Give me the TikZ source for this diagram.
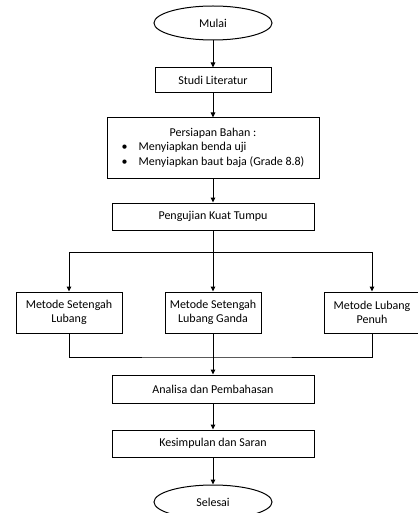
\documentclass[tikz,border=0pt]{standalone}
\usepackage{fontspec}
\setmainfont{Carlito}
\usetikzlibrary{shapes.geometric,arrows.meta}
\begin{document}
\begin{tikzpicture}[x=1pt, y=-1pt,
  every node/.style={font=\fontsize{12}{14.5}\selectfont},
  proses/.style={draw, line width=1pt, rectangle, minimum height=27pt, inner sep=2pt},
  terminal/.style={draw, line width=1pt, ellipse, minimum width=118pt, minimum height=34pt},
  garis/.style={line width=1pt},
  panah/.style={line width=1pt, -{Triangle[length=5pt,width=4.5pt]}}]
\useasboundingbox (0,0) rectangle (417,513);
% alur utama
\node[terminal] (mulai) at (213,23){Mulai};
\node[proses, minimum width=116pt, minimum height=25pt] (studi) at (213,80.5){Studi Literatur};
\node[proses, minimum width=212pt, minimum height=60pt] (bahan) at (213,148){%
  \begin{tabular}{@{}c@{\hspace{11pt}}l@{}}
  \multicolumn{2}{c}{Persiapan Bahan :}\\
  \textbullet & Menyiapkan benda uji\\
  \textbullet & Menyiapkan baut baja (Grade 8.8)
  \end{tabular}};
\node[proses, minimum width=202pt] (uji) at (213,216.5){Pengujian Kuat Tumpu};
% tiga metode
\node[proses, minimum width=106pt, minimum height=41pt, align=center] (msl) at (69,312.5){Metode Setengah\\Lubang};
\node[proses, minimum width=96pt, minimum height=41pt, align=center] (mslg) at (213,312.5){Metode Setengah\\Lubang Ganda};
\node[proses, minimum width=96pt, minimum height=41pt, align=center] (mlp) at (372,312.5){Metode Lubang\\Penuh};
\node[proses, minimum width=202pt, minimum height=28pt] (analisa) at (213,389){Analisa dan Pembahasan};
\node[proses, minimum width=202pt, minimum height=27pt] (simpul) at (213,443.5){Kesimpulan dan Saran};
\node[terminal] (selesai) at (213,502){Selesai};
\coordinate (cabang) at (213,252);
\coordinate (gabung) at (213,357);
% panah
\draw[panah] (mulai) -- (studi);
\draw[panah] (studi) -- (bahan);
\draw[panah] (bahan) -- (uji);
\draw[panah] (uji) -- (mslg);
\draw[panah] (cabang) -| (msl);
\draw[panah] (cabang) -| (mlp);
\draw[garis] (msl) |- (gabung) -| (mlp);
\draw[panah] (mslg) -- (analisa);
\draw[panah] (analisa) -- (simpul);
\draw[panah] (simpul) -- (selesai);
\end{tikzpicture}
\end{document}
